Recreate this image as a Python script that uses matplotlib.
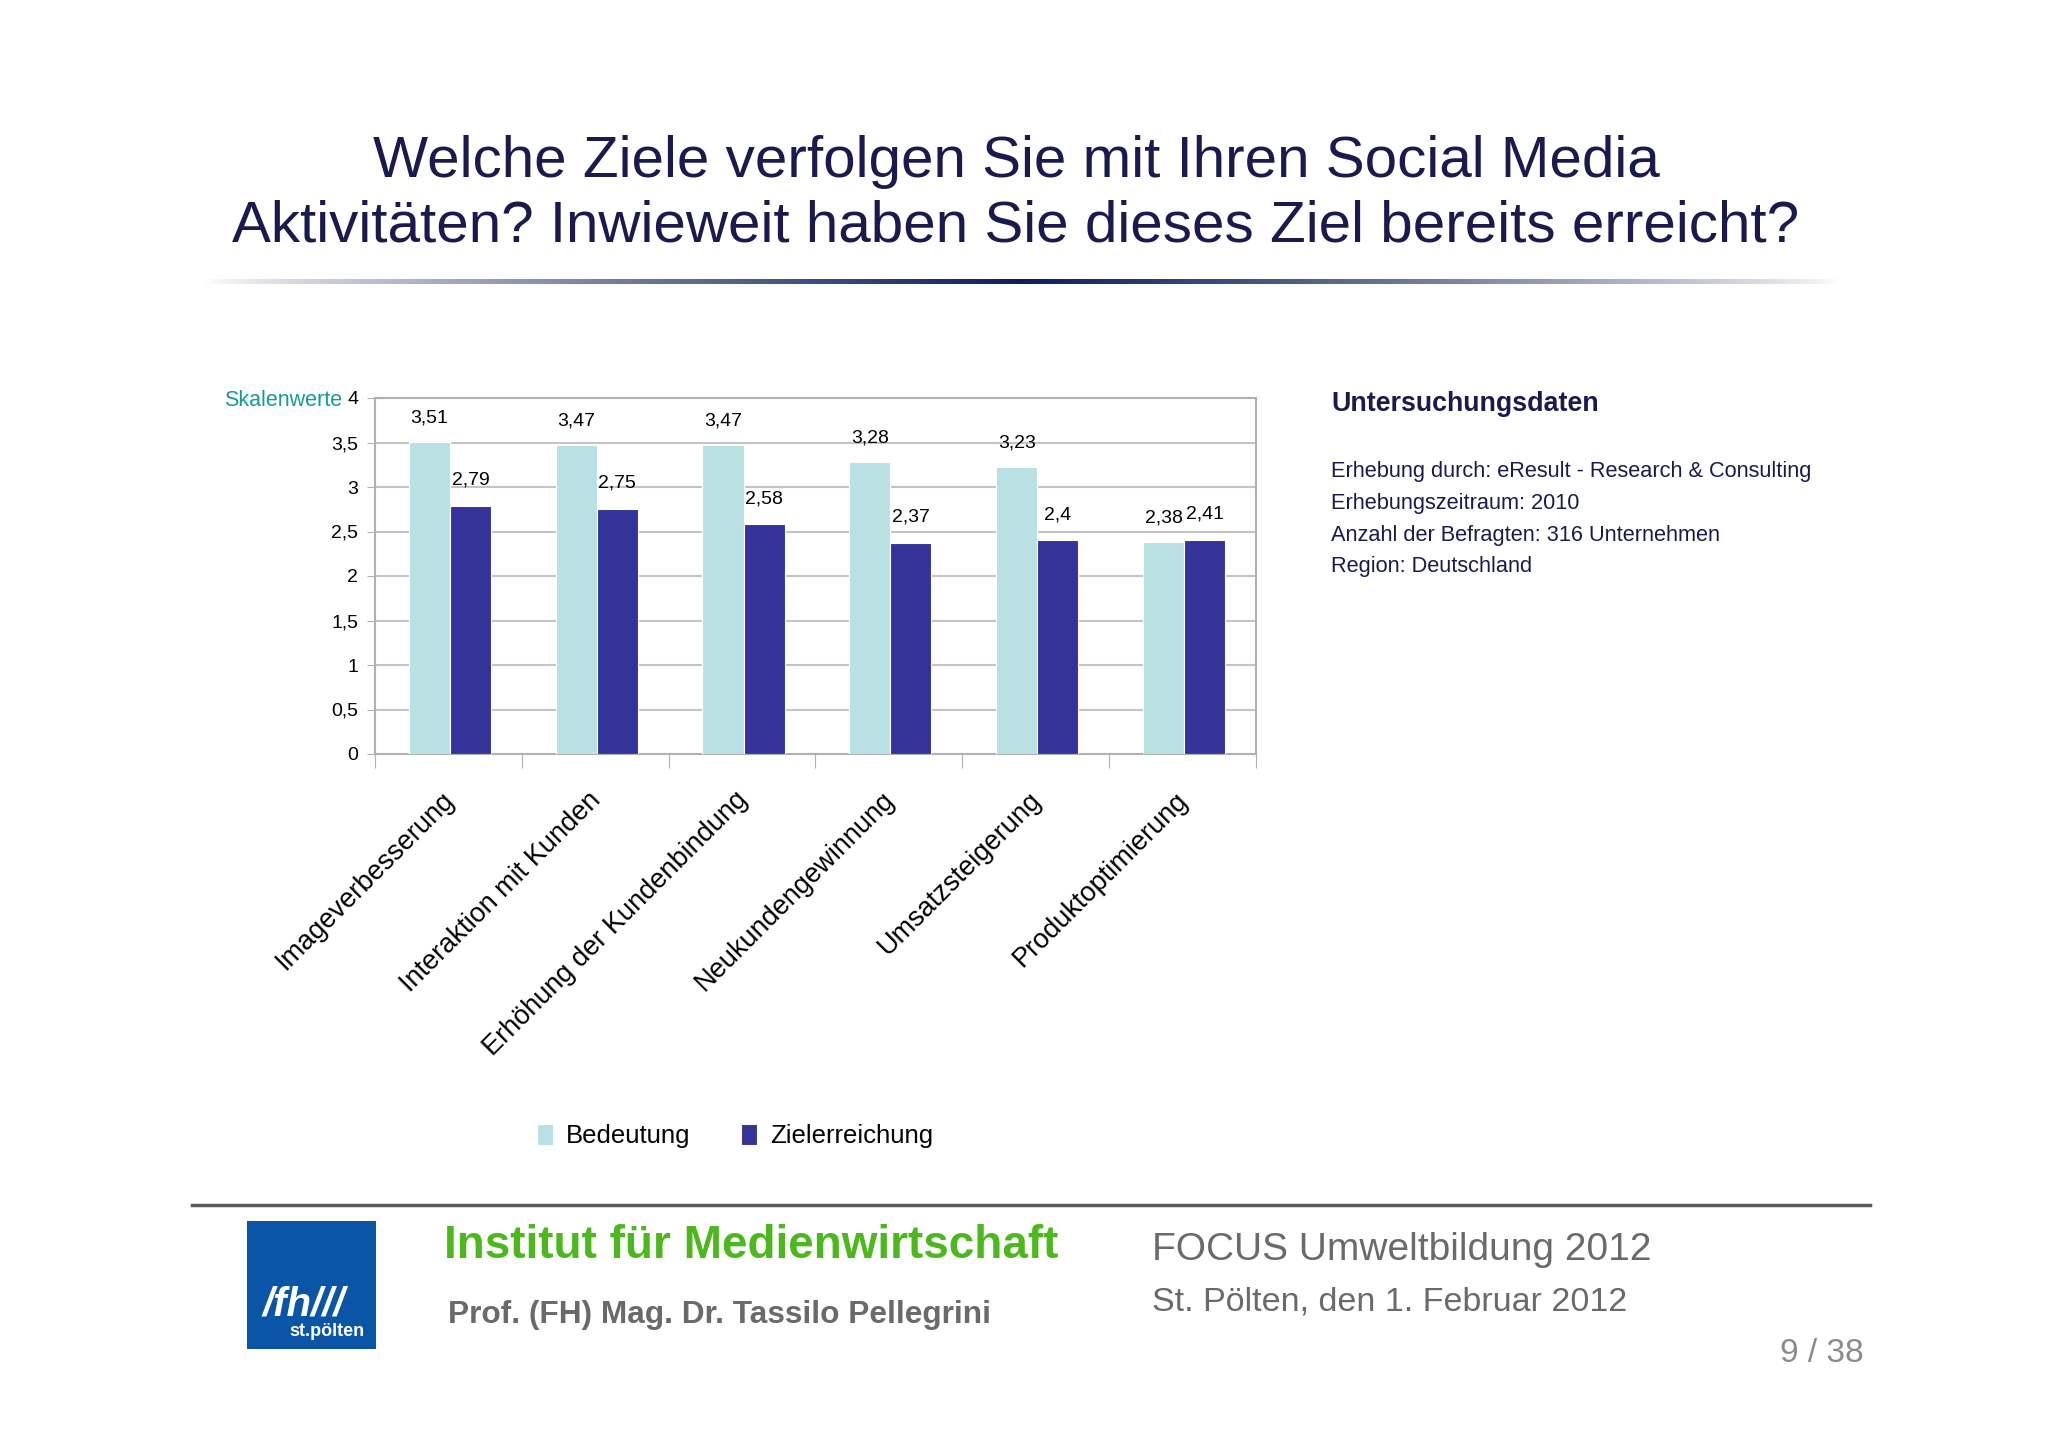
import numpy as np
import matplotlib.pyplot as plt
from matplotlib.patches import Rectangle

plt.rcParams['font.family'] = ['Liberation Sans', 'DejaVu Sans']

# Daten
kategorien = ['Imageverbesserung', 'Interaktion mit Kunden', 'Erhöhung der Kundenbindung',
              'Neukundengewinnung', 'Umsatzsteigerung', 'Produktoptimierung']
bedeutung = [3.51, 3.47, 3.47, 3.28, 3.23, 2.38]
zielerreichung = [2.79, 2.75, 2.58, 2.37, 2.40, 2.41]
bedeutung_labels = ['3,51', '3,47', '3,47', '3,28', '3,23', '2,38']
ziel_labels = ['2,79', '2,75', '2,58', '2,37', '2,4', '2,41']
y_ticks = [0, 0.5, 1, 1.5, 2, 2.5, 3, 3.5, 4]
y_ticklabels = ['0', '0,5', '1', '1,5', '2', '2,5', '3', '3,5', '4']

info_zeilen = ['Erhebung durch: eResult - Research & Consulting',
               'Erhebungszeitraum: 2010',
               'Anzahl der Befragten: 316 Unternehmen',
               'Region: Deutschland']

W, H = 2048, 1448
navy = '#1b1a4f'
hell = '#b9e0e3'
dunkel = '#333399'

fig = plt.figure(figsize=(W / 100, H / 100), dpi=100)
fig.patch.set_facecolor('white')

def fx(x):
    return x / W

def fy(y):
    return 1 - y / H

# Titel
fig.text(fx(1016), fy(162), 'Welche Ziele verfolgen Sie mit Ihren Social Media',
         ha='center', va='center', fontsize=42, color=navy)
fig.text(fx(1016), fy(227), 'Aktivitäten? Inwieweit haben Sie dieses Ziel bereits erreicht?',
         ha='center', va='center', fontsize=42, color=navy)

# Verlaufslinie unter dem Titel
ax_g = fig.add_axes([fx(202), fy(284), fx(1842 - 202), 5 / H])
t = np.linspace(-1, 1, 600)
alpha = np.clip(1 - np.abs(t), 0, 1) ** 0.8
grad = np.zeros((1, 600, 4))
grad[..., 0] = 0.05
grad[..., 1] = 0.12
grad[..., 2] = 0.35
grad[..., 3] = alpha
ax_g.imshow(grad, aspect='auto', extent=(0, 1, 0, 1))
ax_g.axis('off')

# Balkendiagramm
ax = fig.add_axes([fx(375), fy(754), fx(1256 - 375), (754 - 398) / H])
x = np.arange(len(kategorien))
bw = 0.28
b1 = ax.bar(x - 0.13, bedeutung, bw, color=hell, edgecolor='white', linewidth=0.8,
            label='Bedeutung', zorder=3)
b2 = ax.bar(x + 0.15, zielerreichung, bw, color=dunkel, edgecolor='white', linewidth=0.8,
            label='Zielerreichung', zorder=3)

for rect, lab in zip(b1, bedeutung_labels):
    ax.text(rect.get_x() + rect.get_width() / 2, rect.get_height() + 0.27, lab,
            ha='center', va='center', fontsize=14)
for rect, lab in zip(b2, ziel_labels):
    ax.text(rect.get_x() + rect.get_width() / 2, rect.get_height() + 0.29, lab,
            ha='center', va='center', fontsize=14)

ax.set_xlim(-0.5, len(kategorien) - 0.5)
ax.set_ylim(0, 4)
ax.set_yticks(y_ticks)
ax.set_yticklabels(y_ticklabels, fontsize=14)
ax.yaxis.grid(True, color='#c4c4c4', linewidth=1.5, zorder=0)
ax.set_axisbelow(True)
for s in ax.spines.values():
    s.set_color('#b0b0b0')
    s.set_linewidth(1.5)
ax.tick_params(axis='y', length=6, color='#b0b0b0', pad=6)

# Kategorie-Trennstriche unten
ax.set_xticks(np.arange(len(kategorien) + 1) - 0.5)
ax.set_xticklabels([])
ax.tick_params(axis='x', length=10, color='#b0b0b0')
for i, k in enumerate(kategorien):
    ax.text(i - 0.05, -0.37, k, rotation=45, ha='right', va='top',
            rotation_mode='anchor', fontsize=19.5)

fig.text(fx(342), fy(401), 'Skalenwerte', ha='right', va='center', fontsize=15.5, color='#159a9c')

fig.legend(handles=[b1, b2], labels=['Bedeutung', 'Zielerreichung'],
           loc='center', bbox_to_anchor=(fx(735), fy(1136)), ncol=2, frameon=False,
           fontsize=18.5, handlelength=0.6, handleheight=0.9, handletextpad=0.5,
           columnspacing=2.0)

# Untersuchungsdaten
fig.text(fx(1331), fy(404), 'Untersuchungsdaten', ha='left', va='center', fontsize=19.3,
         fontweight='bold', color=navy)
for i, z in enumerate(info_zeilen):
    fig.text(fx(1331), fy(472 + i * 31.5), z, ha='left', va='center', fontsize=15.7, color=navy)

# Fußzeile
fig.add_artist(plt.Line2D([fx(192), fx(1870)], [fy(1205), fy(1205)],
                          color='#5a5a5a', linewidth=2.5))
fig.add_artist(Rectangle((fx(247), fy(1349)), fx(376 - 247), (1349 - 1221) / H,
                         facecolor='#0b55a6', edgecolor='none'))
fig.text(fx(304), fy(1304), '/fh///', ha='center', va='center', fontsize=29,
         fontweight='bold', style='italic', color='white')
fig.text(fx(365), fy(1331), 'st.pölten', ha='right', va='center', fontsize=13,
         fontweight='bold', color='white')

fig.text(fx(444), fy(1246), 'Institut für Medienwirtschaft', ha='left', va='center',
         fontsize=33, fontweight='bold', color='#4cb81e')
fig.text(fx(448), fy(1315), 'Prof. (FH) Mag. Dr. Tassilo Pellegrini', ha='left', va='center',
         fontsize=22.8, fontweight='bold', color='#6a6a6a')
fig.text(fx(1152), fy(1250), 'FOCUS Umweltbildung 2012', ha='left', va='center',
         fontsize=28, color='#6a6a6a')
fig.text(fx(1152), fy(1302), 'St. Pölten, den 1. Februar 2012', ha='left', va='center',
         fontsize=24.5, color='#6a6a6a')
fig.text(fx(1864), fy(1354), '9 / 38', ha='right', va='center', fontsize=24, color='#8a8a8a')

fig.savefig('out.png', dpi=100, facecolor='white')
